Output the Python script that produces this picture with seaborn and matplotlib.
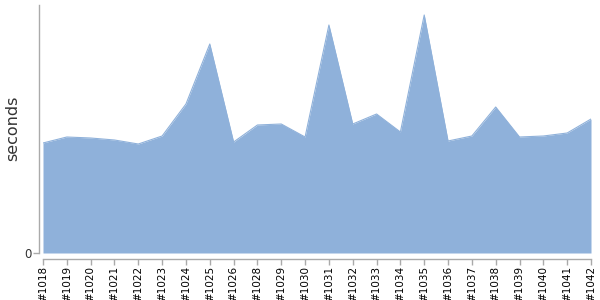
import matplotlib
matplotlib.use("Agg")
import matplotlib.pyplot as plt
import seaborn as sns
import numpy as np
import pandas as pd

builds = ["#1018", "#1019", "#1020", "#1021", "#1022", "#1023", "#1024", "#1025",
          "#1026", "#1028", "#1029", "#1030", "#1031", "#1032", "#1033", "#1034",
          "#1035", "#1036", "#1037", "#1038", "#1039", "#1040", "#1041", "#1042"]
seconds = [110, 116, 115, 113, 109, 117, 149, 209, 111, 128, 129, 116, 228, 129,
           139, 121, 238, 112, 117, 146, 116, 117, 120, 134]

sns.set_style("white")
plt.rcParams['font.family'] = ['DejaVu Sans']

df = pd.DataFrame({"build": builds, "seconds": seconds, "pos": np.arange(len(builds))})

fig = plt.figure(figsize=(6, 3), dpi=100)
ax = fig.add_axes([43/600, 47/300, 548/600, 248/300])

for s in ["top", "right"]:
    ax.spines[s].set_visible(False)
ax.spines["left"].set_position(("outward", 3))
ax.spines["bottom"].set_position(("outward", 4))
for s in ["left", "bottom"]:
    ax.spines[s].set_color("#aaaaaa")
    ax.spines[s].set_linewidth(1)

sns.lineplot(data=df, x="pos", y="seconds", ax=ax, color="#8fb1da", linewidth=0.8)
ax.fill_between(df["pos"].to_numpy(), df["seconds"].to_numpy(), 0,
                color="#8fb1da", linewidth=0)

ax.set_xlim(0, len(builds) - 1)
ax.set_ylim(0, 248)
ax.set_xticks(list(range(len(builds))))
ax.set_xticklabels(builds, fontsize=7.5, color="black", rotation=90,
                   va="top", ha="center")
ax.set_yticks([0])
ax.set_yticklabels(["0"], fontsize=8.5, color="#333333")
ax.set_xlabel("")
ax.set_ylabel("")
fig.text(13/600, 1 - 128/300, "seconds", rotation=90, ha="center", va="center",
         fontsize=11.5, color="#333333")

ax.tick_params(axis="both", which="both", length=4, color="#aaaaaa", width=1,
               bottom=True, left=True, pad=1.5)

fig.savefig("out.png", dpi=100)
